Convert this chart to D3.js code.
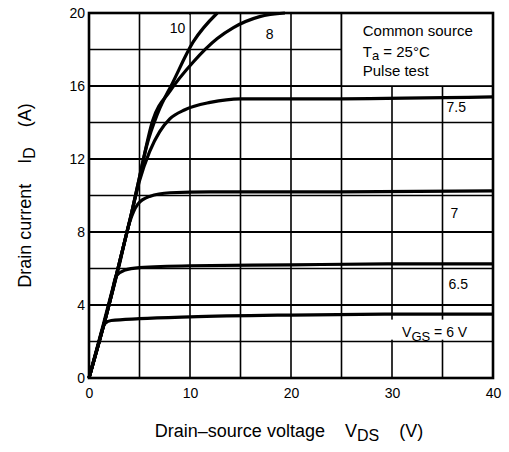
<!DOCTYPE html>
<html>
<head>
<meta charset="utf-8">
<script src="https://cdn.jsdelivr.net/npm/d3@7"></script>
<style>
  body { margin: 0; background: #fff; }
  text { font-family: "Liberation Sans", Arial, sans-serif; fill: #000; white-space: pre; }
</style>
</head>
<body>
<div id="chart"></div>
<script>
// output characteristics ID - VDS, one curve per gate voltage
let vgs6  = [[0,0],[0.8,1.6],[1.6,3.0],[2.2,3.15],[5,3.25],[10,3.35],[20,3.45],[30,3.5],[40,3.5]];
let vgs65 = [[0,0],[1.5,3.1],[2.3,4.8],[2.7,5.6],[3.5,5.9],[5,6.05],[10,6.15],[20,6.2],[30,6.25],[40,6.25]];
let vgs7  = [[0,0],[1.6,3.2],[3,6.2],[4,8.5],[4.8,9.5],[6,9.95],[8,10.15],[12,10.2],[25,10.2],[40,10.25]];
let vgs75 = [[0,0],[1.6,3.2],[3,6.3],[4.2,9],[5,10.8],[6,12.4],[7,13.5],[8,14.2],[9.5,14.7],[12,15.1],[15,15.3],[25,15.3],[40,15.4]];
let vgs8  = [[0,0],[1.6,3.2],[3,6.3],[4.2,9],[5,11],[6.3,14.1],[8,15.7],[10.3,17.3],[12.7,18.6],[14.3,19.2],[16.9,19.8],[19.4,20]];
let vgs10 = [[0,0],[1.6,3.2],[3,6.3],[4.2,9],[5,11],[5.7,12.7],[6.8,14.5],[8.3,16.2],[10.3,18.4],[12.7,20]];

let xTicks = [0, 10, 20, 30, 40];
let yTicks = [0, 4, 8, 12, 16, 20];
let xGrid = d3.range(0, 41, 5);
let yGrid = d3.range(0, 21, 2);

// labels next to each curve: [text, VDS, ID]
let curveLabels = [["10", 8.0, 18.9], ["8", 17.5, 18.55], ["7.5", 35.4, 14.55], ["7", 35.8, 8.77], ["6.5", 35.6, 4.88]];

// set the dimensions and margins of the graph
let margin = { top: 13, right: 16, bottom: 74, left: 89 },
    width = 509 - margin.left - margin.right,
    height = 452 - margin.top - margin.bottom;

let x = d3.scaleLinear().domain([0, 40]).range([0, width]);
let y = d3.scaleLinear().domain([0, 20]).range([height, 0]);

let svg = d3.select("#chart").append("svg")
    .attr("width", 509)
    .attr("height", 452)
  .append("g")
    .attr("transform", "translate(" + margin.left + "," + margin.top + ")");

// grid lines
svg.selectAll(".vgrid").data(xGrid).enter().append("line")
    .attr("x1", d => x(d)).attr("x2", d => x(d))
    .attr("y1", 0).attr("y2", height)
    .style("stroke", "#000").style("stroke-width", 1.6);
svg.selectAll(".hgrid").data(yGrid).enter().append("line")
    .attr("x1", 0).attr("x2", width)
    .attr("y1", d => y(d)).attr("y2", d => y(d))
    .style("stroke", "#000").style("stroke-width", d => d % 4 == 0 ? 2 : 1.5);

// tick labels only, no tick marks
svg.append("g")
    .attr("transform", "translate(0," + height + ")")
    .call(d3.axisBottom(x).tickValues(xTicks).tickSize(0).tickPadding(10))
    .call(g => g.select(".domain").remove())
    .selectAll("text").style("font-size", "14px").style("font-family", "Liberation Sans, Arial, sans-serif");
svg.append("g")
    .call(d3.axisLeft(y).tickValues(yTicks).tickSize(0).tickPadding(4))
    .call(g => g.select(".domain").remove())
    .selectAll("text").style("font-size", "14px").style("font-family", "Liberation Sans, Arial, sans-serif");

// white boxes behind labels
svg.append("rect")
    .attr("x", x(25)).attr("y", 0)
    .attr("width", x(40) - x(25)).attr("height", y(16))
    .style("fill", "#fff").style("stroke", "#000").style("stroke-width", 1.6);
svg.append("rect")
    .attr("x", x(29.7)).attr("y", y(3.2))
    .attr("width", x(39.8) - x(29.7)).attr("height", y(2.1) - y(3.2))
    .style("fill", "#fff");
svg.append("rect")
    .attr("x", x(7.6)).attr("y", y(19.9))
    .attr("width", x(9.95) - x(7.6)).attr("height", y(18.2) - y(19.9))
    .style("fill", "#fff");

let line = d3.line()
    .x(d => x(d[0]))
    .y(d => y(d[1]))
    .curve(d3.curveMonotoneX);

[vgs6, vgs65, vgs7, vgs75, vgs8, vgs10].forEach(function(s) {
    svg.append("path")
        .datum(s)
        .attr("d", line)
        .style("fill", "none")
        .style("stroke", "#000")
        .style("stroke-width", 3.2)
        .style("stroke-linejoin", "round");
});

// frame
svg.append("rect")
    .attr("width", width).attr("height", height)
    .style("fill", "none").style("stroke", "#000").style("stroke-width", 2.6);

// curve labels
svg.selectAll(".clabel").data(curveLabels).enter().append("text")
    .attr("x", d => x(d[1])).attr("y", d => y(d[2]))
    .style("font-size", "14px")
    .text(d => d[0]);

let vgsLabel = svg.append("text")
    .attr("x", x(31.0)).attr("y", y(2.25))
    .style("font-size", "14px");
vgsLabel.append("tspan").text("V");
vgsLabel.append("tspan").attr("dy", 4).style("font-size", "13px").text("GS");
vgsLabel.append("tspan").attr("dy", -4).text(" = 6 V");

// conditions box text
svg.append("text").attr("x", x(27.1)).attr("y", 23).style("font-size", "15px").text("Common source");
let ta = svg.append("text").attr("x", x(27.1)).attr("y", 44).style("font-size", "15px");
ta.append("tspan").text("T");
ta.append("tspan").attr("dy", 3).style("font-size", "13px").text("a");
ta.append("tspan").attr("dy", -3).text(" = 25°C");
svg.append("text").attr("x", x(27.1)).attr("y", 63).style("font-size", "15px").text("Pulse test");

// x axis title
let xt = svg.append("text")
    .attr("x", width / 2 - 2).attr("y", height + 59)
    .style("text-anchor", "middle")
    .style("font-size", "18px");
xt.append("tspan").text("Drain\u2013source voltage    V");
xt.append("tspan").attr("dy", 4).style("font-size", "16px").text("DS");
xt.append("tspan").attr("dy", -4).text("    (V)");

// y axis title
let yt = svg.append("text")
    .attr("transform", "rotate(-90)")
    .attr("x", -height / 2).attr("y", -58)
    .style("text-anchor", "middle")
    .style("font-size", "18px");
yt.append("tspan").text("Drain current    I");
yt.append("tspan").attr("dy", 4).style("font-size", "16px").text("D");
yt.append("tspan").attr("dy", -4).text("    (A)");
</script>
</body>
</html>
